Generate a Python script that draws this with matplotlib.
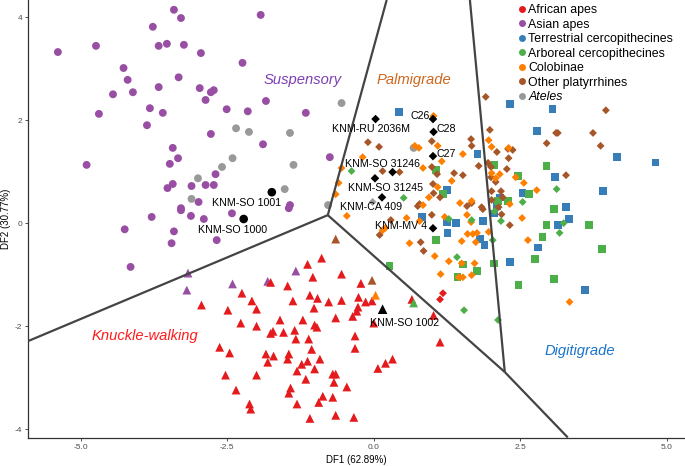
import matplotlib
matplotlib.use("Agg")
import matplotlib.pyplot as plt
from matplotlib.lines import Line2D

plt.rcParams["font.family"] = ["Liberation Sans", "DejaVu Sans"]

# ---------------------------------------------------------------------------
# Data (DF1, DF2 scores)
# ---------------------------------------------------------------------------
# African apes
african_tri_x = [-2.94, -2.49, -2.25, -2.08, -2.00, -2.27, -2.00, -1.76, -1.47, -1.38, -1.60, -1.72,
                 -1.76, -1.54, -1.35, -1.33, -1.21, -1.11, -1.13, -0.89, -1.04, -1.09, -0.96, -1.02,
                 -0.77, -0.55, -0.55, -0.65, -1.01, -0.97, -0.22, -0.26, -0.27, -0.29, -0.36, -0.14,
                 -0.03, 0.65, 1.02, 1.13, -0.32, -0.32, -1.06, -0.92, -1.13, -1.23, -1.01, -1.31,
                 -1.45, -1.47, -1.71, -1.84, -1.81, -2.46, -2.63, -2.53, -2.00, -2.35, -2.12, -2.10,
                 -1.42, -1.45, -1.31, -1.16, -0.70, -0.65, -0.68, -0.46, -0.70, -0.87, -0.94, -1.09,
                 -0.65, -0.34, 0.07, 0.20, 0.32, 0.00]
african_tri_y = [-1.59, -1.69, -1.36, -1.51, -1.67, -1.94, -2.00, -1.15, -1.22, -1.51, -1.88, -2.10,
                 -2.14, -2.12, -2.08, -2.25, -1.88, -2.25, -0.80, -0.68, -1.05, -1.40, -1.46, -1.65,
                 -1.53, -1.50, -0.99, -1.84, -1.98, -2.02, -1.17, -1.44, -1.63, -1.71, -1.81, -1.53,
                 -1.51, -1.48, -1.79, -2.31, -2.19, -2.43, -2.45, -2.64, -2.68, -2.74, -2.83, -2.87,
                 -2.54, -2.64, -2.58, -2.54, -2.70, -2.52, -2.41, -2.95, -2.95, -3.24, -3.51, -3.61,
                 -3.20, -3.30, -3.51, -3.03, -2.93, -2.93, -3.09, -3.18, -3.38, -3.36, -3.48, -3.79,
                 -3.73, -3.77, -2.82, -2.72, -2.64, -1.94]
african_dia_x = [1.18, 1.13]
african_dia_y = [-1.36, -1.48]

# Asian apes
asian_circ_x = [-5.39, -4.74, -4.90, -4.69, -4.45, -4.27, -4.20, -4.11, -3.77, -3.67, -3.53, -3.41,
                -3.29, -3.24, -2.95, -3.33, -3.67, -3.82, -3.60, -3.87, -2.97, -2.87, -2.78, -2.73,
                -2.78, -2.51, -2.15, -2.24, -1.93, -1.84, -1.16, -1.89, -3.43, -3.34, -3.48, -3.43,
                -3.52, -3.11, -2.87, -2.73, -2.70, -2.99, -3.29, -3.29, -3.12, -2.90, -2.42, -3.79,
                -4.25, -3.41, -2.68, -1.43, -1.45, -0.75, -3.45, -4.15]
asian_circ_y = [3.32, 3.44, 1.13, 2.12, 2.50, 3.01, 2.78, 2.54, 3.81, 3.44, 3.48, 4.14,
                3.98, 3.46, 3.30, 2.83, 2.64, 2.23, 2.14, 1.90, 2.62, 2.39, 2.54, 2.58,
                1.73, 2.21, 2.17, 3.11, 4.04, 2.37, 2.14, 1.53, 1.46, 1.26, 1.15, 0.76,
                0.68, 0.72, 0.74, 0.74, 0.95, 0.41, 0.29, 0.25, 0.14, 0.08, 0.19, 0.12,
                -0.12, -0.16, -0.33, 0.35, 0.29, 1.28, -0.39, -0.85]
asian_tri_x = [-3.17, -3.19, -2.41, -1.81, -1.33]
asian_tri_y = [-0.97, -1.30, -1.18, -1.13, -0.93]

# Terrestrial cercopithecines
terr_sq_x = [0.43, 1.25, 0.82, 1.25, 1.40, 1.26, 1.77, 2.32, 3.05, 2.78, 4.15, 4.81, 3.09, 2.54,
             3.91, 3.28, 3.33, 3.14, 1.86, 1.81, 1.89, 2.80, 2.32, 3.60, 2.10, 2.05, 2.15]
terr_sq_y = [2.16, 0.64, 0.12, 0.02, 0.00, -0.19, 1.34, 2.31, 2.21, 1.79, 1.28, 1.18, 0.89, 0.58,
             0.62, 0.31, 0.08, -0.04, 0.04, -0.31, -0.43, -0.47, -0.76, -1.30, 0.33, 0.19, 0.50]

# Arboreal cercopithecines
arb_sq_x = [1.06, 1.18, 1.06, 0.27, 2.06, 2.46, 2.95, 2.65, 2.29, 2.12, 3.07, 2.95, 2.88, 3.67,
            3.89, 2.75, 2.05, 1.76, 3.07, 2.47, 1.52, 1.43]
arb_sq_y = [1.03, 0.56, -0.33, -0.83, 1.13, 0.91, 1.11, 0.56, 0.43, 0.43, 0.27, -0.04, -0.27, -0.04,
            -0.50, -0.70, -0.78, -0.93, -1.09, -1.20, -0.80, -1.05]
arb_dia_x = [-0.38, 0.51, 1.28, 1.67, 1.42, 1.54, 3.12, 2.54, 2.06, 2.17, 3.24, 3.17, 2.03, 2.12]
arb_dia_y = [1.01, 0.49, 0.08, 0.06, -0.66, -1.69, 0.66, 0.41, 0.23, 0.04, 0.00, -0.19, -0.33, -1.88]
arb_tri_x = [0.68]
arb_tri_y = [-1.55]

# Colobinae
colob_dia_x = [1.02, 0.70, 0.77, 1.09, -0.55, -0.60, -0.65, -0.46, -0.19, 0.84, 1.16, 1.52, 1.33,
               1.09, 0.94, 0.84, 0.56, 0.78, 1.21, 1.47, 1.59, 0.15, 0.19, 0.61, 1.50, 1.60, 1.69,
               1.76, 1.74, 1.04, 1.28, 1.50, 1.72, 1.14, 1.45, 1.52, 1.67, 1.96, 2.01, 2.30, 2.01,
               2.08, 2.15, 2.42, 2.56, 2.78, 1.67, 2.32, 2.53, 1.66, 1.96, 2.63, 3.34]
colob_dia_y = [2.08, 1.50, 1.46, 1.50, 1.07, 0.78, 0.56, 0.14, 1.28, 1.07, 1.20, 1.34, 0.82,
               0.70, 0.50, 0.35, 0.10, 0.04, 0.12, 0.39, 0.16, -0.14, -0.10, -0.39, -0.35, -0.21, -0.21,
               -0.19, -0.37, -0.64, -0.74, -0.78, -0.78, -0.99, -1.05, -1.05, -1.01, 1.61, 1.48, 1.46, 0.97,
               0.87, 0.95, 0.89, 0.78, 0.64, 0.43, 0.37, 0.10, 0.02, -0.17, -0.33, -1.53]
colob_tri_x = [0.03]
colob_tri_y = [-1.40]

# Other platyrrhines
platy_dia_x = [-0.10, 0.09, 0.15, 0.44, 0.99, 1.08, 0.99, 1.37, 1.52, 1.01, 1.02, 1.13, 0.78, 0.75,
               0.99, 1.59, 1.67, 0.29, 0.10, 0.80, 0.85, 1.91, 3.96, 1.98, 1.66, 1.67, 2.10, 2.29,
               2.37, 2.30, 1.79, 1.95, 2.00, 2.27, 2.00, 2.08, 3.11, 3.14, 3.74, 2.95, 3.87, 3.28,
               2.01, 2.17, 2.20, 2.01, 1.84, 1.86, 2.13, 2.18, 2.32]
platy_dia_y = [1.57, 1.48, 1.01, 0.99, 1.59, 0.95, 1.09, 0.97, 0.93, 0.76, 0.58, 0.50, 0.37, 0.33,
               0.16, 0.33, 0.39, 0.06, -0.23, -0.37, -0.54, 2.45, 2.19, 1.81, 1.63, 1.50, 1.38, 1.44,
               1.42, 1.26, 1.11, 1.17, 1.09, 1.05, 0.89, 0.80, 1.75, 1.75, 1.75, 1.55, 1.50, 0.93,
               0.62, 0.62, 0.50, 0.45, 0.31, 0.27, 0.31, 0.17, -0.04]
platy_tri_x = [-0.65, -0.03]
platy_tri_y = [-0.31, -1.11]

# Ateles
ateles_circ_x = [-2.35, -2.13, -1.43, -1.37, -2.41, -2.59, -3.00, -3.11, -1.52, -0.78, -0.55, 0.68]
ateles_circ_y = [1.84, 1.77, 1.75, 1.13, 1.26, 1.09, 0.87, 0.47, 0.66, 0.35, 2.33, 1.46]
ateles_dia_x = [-0.02]
ateles_dia_y = [0.41]

# Fossils
fossil_names = ["KNM-SO 1001", "KNM-SO 1000", "KNM-SO 1002", "KNM-RU 2036M", "C26", "C28", "C27",
                "KNM-SO 31246", "KNM-SO 31245", "KNM-CA 409", "KNM-MV 4"]
fossil_x = [-1.74, -2.22, 0.15, 0.03, 1.01, 1.02, 1.01, 0.32, 0.02, 0.14, 1.01]
fossil_y = [0.60, 0.08, -1.67, 2.02, 2.02, 1.77, 1.30, 0.99, 0.87, 0.50, -0.10]
fossil_shape = ["o", "o", "^", "D", "D", "D", "D", "D", "D", "D", "D"]

# Discriminant boundaries (meeting points of the three lines)
centre_pt = (-0.785, 0.155)
lower_pt = (2.235, -2.89)
boundary_ends = [((0.22, 4.33), centre_pt), ((-5.90, -2.29), centre_pt), (centre_pt, lower_pt),
                 (lower_pt, (3.31, -4.16)), (lower_pt, (1.64, 4.33))]

region_names = ["Suspensory", "Palmigrade", "Knuckle-walking", "Digitigrade"]
region_x = [-1.21, 0.68, -3.90, 3.52]
region_y = [2.78, 2.78, -2.19, -2.49]

# ---------------------------------------------------------------------------
# Colours
# ---------------------------------------------------------------------------
C_AFR = "#E41A1C"
C_ASI = "#984EA3"
C_TER = "#377EB8"
C_ARB = "#4DAF4A"
C_COL = "#FF7F00"
C_PLA = "#A65628"
C_ATE = "#999999"
region_colors = ["#7D3FB5", "#CD661D", "#FF1A1A", "#1874CD"]

SIZES = {"o": 32, "^": 40, "s": 30, "D": 16}

# ---------------------------------------------------------------------------
# Plot
# ---------------------------------------------------------------------------
fig = plt.figure(figsize=(6.85, 4.66), dpi=100)
ax = fig.add_axes([28 / 685, 28 / 466, 657 / 685, 438 / 466])

groups = [
    (asian_circ_x, asian_circ_y, "o", C_ASI),
    (ateles_circ_x, ateles_circ_y, "o", C_ATE),
    (ateles_dia_x, ateles_dia_y, "D", C_ATE),
    (asian_tri_x, asian_tri_y, "^", C_ASI),
    (african_tri_x, african_tri_y, "^", C_AFR),
    (african_dia_x, african_dia_y, "D", C_AFR),
    (terr_sq_x, terr_sq_y, "s", C_TER),
    (arb_sq_x, arb_sq_y, "s", C_ARB),
    (arb_tri_x, arb_tri_y, "^", C_ARB),
    (platy_tri_x, platy_tri_y, "^", C_PLA),
    (colob_tri_x, colob_tri_y, "^", C_COL),
    (platy_dia_x, platy_dia_y, "D", C_PLA),
    (colob_dia_x, colob_dia_y, "D", C_COL),
    (arb_dia_x, arb_dia_y, "D", C_ARB),
]
for gx, gy, mk, col in groups:
    ax.scatter(gx, gy, marker=mk, s=SIZES[mk], color=col, edgecolors="none", zorder=2)

# boundaries
for (x0, y0), (x1, y1) in boundary_ends:
    ax.plot([x0, x1], [y0, y1], color="#444444", linewidth=1.6, zorder=3,
            solid_capstyle="butt")

# fossils
for fx, fy, mk in zip(fossil_x, fossil_y, fossil_shape):
    ax.scatter(fx, fy, marker=mk, s=SIZES[mk] * 1.2, color="black", edgecolors="none", zorder=4)

# label offsets (points) and alignment for each fossil
label_offsets = [(-18, -8, "center"), (-8, -8, "center"), (16, -10, "center"),
                 (-3.6, -7.2, "center"), (-2.2, 2.2, "right"), (2.2, 2.2, "left"),
                 (2.5, 1.4, "left"), (-7.2, 5.8, "center"), (7.9, -7.2, "center"),
                 (-7.9, -7.2, "center"), (-4.3, 1.4, "right")]
for name, fx, fy, (dx, dy, ha) in zip(fossil_names, fossil_x, fossil_y, label_offsets):
    ax.annotate(name, (fx, fy), xytext=(dx, dy), textcoords="offset points",
                ha=ha, va="center", fontsize=7.7, color="black", zorder=5)

# region names
for name, rx, ry, col in zip(region_names, region_x, region_y, region_colors):
    ax.text(rx, ry, name, color=col, fontsize=10.6, style="italic",
            ha="center", va="center", zorder=5)

# axes
ax.set_xlim(-5.90, 5.31)
ax.set_ylim(-4.17, 4.33)
ax.set_xticks([-5, -2.5, 0, 2.5, 5])
ax.set_xticklabels(["-5.0", "-2.5", "0.0", "2.5", "5.0"])
ax.set_yticks([-4, -2, 0, 2, 4])
ax.set_yticklabels(["-4", "-2", "0", "2", "4"])
ax.tick_params(labelsize=6, labelcolor="#4D4D4D", color="#333333", length=2.2, width=0.6, pad=2)
for side in ("top", "right"):
    ax.spines[side].set_visible(False)
for side in ("left", "bottom"):
    ax.spines[side].set_color("#333333")
    ax.spines[side].set_linewidth(0.9)
ax.set_xlabel("DF1 (62.89%)", fontsize=7, labelpad=3)
ax.set_ylabel("DF2 (30.77%)", fontsize=7, labelpad=3)

# legend
legend_labels = ["African apes", "Asian apes", "Terrestrial cercopithecines",
                 "Arboreal cercopithecines", "Colobinae", "Other platyrrhines", "Ateles"]
legend_colors = [C_AFR, C_ASI, C_TER, C_ARB, C_COL, C_PLA, C_ATE]
handles = [Line2D([], [], marker="o", linestyle="", markersize=5, color=c,
                  markeredgewidth=0) for c in legend_colors]
leg = ax.legend(handles, legend_labels, loc="upper left", bbox_to_anchor=(0.733, 1.01),
                frameon=False, fontsize=8.9, handlelength=0.6, handletextpad=0.2,
                labelspacing=0.2, borderpad=0.2)
leg.get_texts()[-1].set_style("italic")

fig.patch.set_facecolor("white")
fig.savefig("out.png", dpi=100)
